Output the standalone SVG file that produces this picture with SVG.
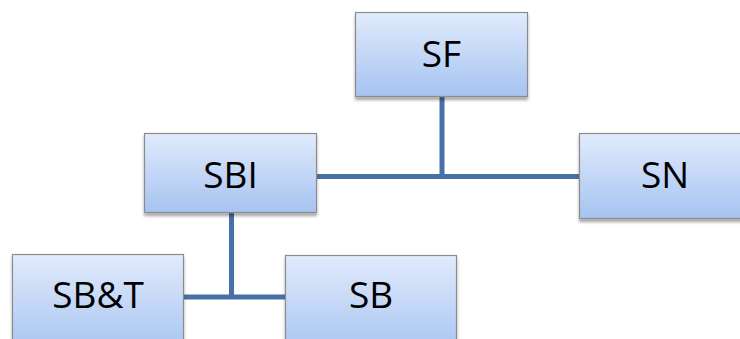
<svg xmlns="http://www.w3.org/2000/svg" width="740" height="339" viewBox="0 0 740 339">
<defs>
<linearGradient id="g" x1="0" y1="0" x2="0" y2="1">
<stop offset="0" stop-color="#e1ebfc"/>
<stop offset="1" stop-color="#a6c3f1"/>
</linearGradient>
<filter id="sh" x="-10%" y="-10%" width="120%" height="130%">
<feGaussianBlur in="SourceAlpha" stdDeviation="1.5"/>
<feOffset dx="0" dy="2.5" result="b"/>
<feComponentTransfer><feFuncA type="linear" slope="0.35"/></feComponentTransfer>
<feMerge><feMergeNode/><feMergeNode in="SourceGraphic"/></feMerge>
</filter>
</defs>
<style>
.box{fill:url(#g);stroke:#8c8c8c;stroke-width:1.2;filter:url(#sh)}
.t{font-family:"Open Sans","Liberation Sans",sans-serif;font-size:37px;fill:#000;text-anchor:middle}
.c{stroke:#4670a6;stroke-width:5;fill:none}
</style>
<rect width="740" height="339" fill="#fff"/>
<g id="connectors">
<path class="c" d="M442 97 V177"/>
<path class="c" d="M317 176.5 H579"/>
<path class="c" d="M231.5 212 V297.5"/>
<path class="c" d="M184 297 H286"/>
</g>
<g id="SF"><rect class="box" x="355.5" y="12.5" width="172" height="84"/><text class="t" x="441.5" y="67">SF</text></g>
<g id="SBI"><rect class="box" x="144.5" y="133.5" width="172" height="79"/><text class="t" x="230.5" y="188">SBI</text></g>
<g id="SN"><rect class="box" x="579.5" y="133.5" width="172" height="85"/><text class="t" x="665" y="188">SN</text></g>
<g id="SBT"><rect class="box" x="12.5" y="254.5" width="171" height="100"/><text class="t" x="98" y="308">SB&amp;T</text></g>
<g id="SB"><rect class="box" x="285.5" y="255.5" width="171" height="100"/><text class="t" x="371" y="308">SB</text></g>
</svg>
